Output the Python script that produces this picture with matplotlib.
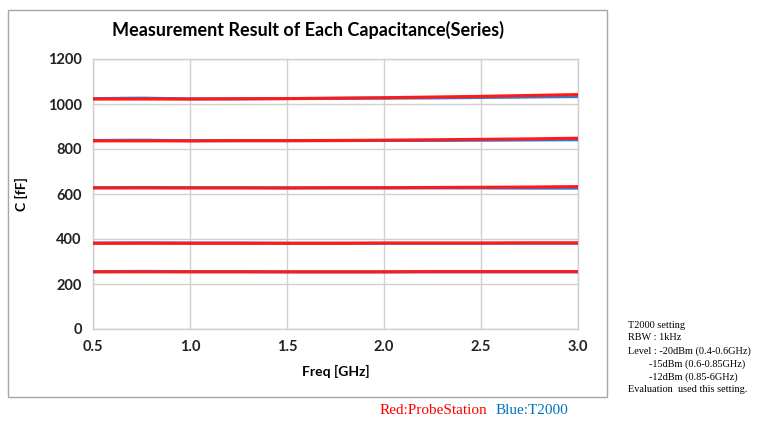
import matplotlib
matplotlib.use("Agg")
import matplotlib.pyplot as plt
from matplotlib.patches import Rectangle

freq = [0.5, 0.75, 1.0, 1.25, 1.5, 1.75, 2.0, 2.25, 2.5, 2.75, 3.0]
red_1000 = [1022, 1022, 1022, 1023, 1024, 1026, 1028, 1031, 1034, 1038, 1042]
blue_1000 = [1024, 1026, 1023, 1023, 1024, 1025, 1026, 1027, 1029, 1031, 1033]
red_840 = [836, 836, 836, 837, 837, 838, 839, 841, 843, 845, 848]
blue_840 = [838, 839, 837, 837, 837, 837, 838, 838, 839, 840, 841]
red_628 = [627, 627, 627, 627, 627, 628, 628, 629, 630, 631, 633]
blue_628 = [628, 629, 628, 628, 627, 627, 627, 627, 627, 626, 626]
red_382 = [381, 381, 381, 381, 381, 381, 382, 382, 382, 383, 383]
blue_382 = [382, 383, 382, 382, 381, 381, 381, 381, 381, 381, 381]
red_255 = [254, 254, 254, 254, 254, 254, 254, 255, 255, 255, 255]
blue_255 = [255, 256, 255, 255, 254, 254, 254, 254, 254, 254, 254]

blue_series = [blue_1000, blue_840, blue_628, blue_382, blue_255]
red_series = [red_1000, red_840, red_628, red_382, red_255]

xticks = [0.5, 1.0, 1.5, 2.0, 2.5, 3.0]
yticks = [0, 200, 400, 600, 800, 1000, 1200]

title = "Measurement Result of Each Capacitance(Series)"
xlabel = "Freq [GHz]"
ylabel = "C [fF]"
note_lines = ["T2000 setting", "RBW : 1kHz", "Level : -20dBm (0.4-0.6GHz)",
              "-15dBm (0.6-0.85GHz)", "-12dBm (0.85-6GHz)",
              "Evaluation  used this setting."]
note_x = [628, 628, 628, 649, 649, 628]

W, H = 759, 421
fig = plt.figure(figsize=(W / 100, H / 100), dpi=100)

# chart frame
fig.patches.append(Rectangle((8 / W, 1 - 397 / H), (607 - 8) / W, (397 - 10) / H,
                             transform=fig.transFigure, fill=False,
                             edgecolor="#a6a6a6", linewidth=1.0))

ax = fig.add_axes([93 / W, 1 - 329 / H, (578 - 93) / W, (329 - 59) / H])
for b in blue_series:
    ax.plot(freq, b, color="#2e7fd0", linewidth=2.2, solid_capstyle="butt", zorder=3)
for r in red_series:
    ax.plot(freq, r, color="#ff1a1a", linewidth=2.2, solid_capstyle="butt", zorder=4)

ax.set_xlim(0.5, 3.0)
ax.set_ylim(0, 1200)
ax.set_xticks(xticks)
ax.set_yticks(yticks)
ax.set_xticklabels([f"{v:.1f}" for v in xticks])
ax.set_yticklabels([str(v) for v in yticks])
ax.grid(True, color="#d0d0d0", linewidth=1.0)
ax.set_axisbelow(True)
for s in ax.spines.values():
    s.set_color("#d0d0d0")
    s.set_linewidth(1.0)
ax.tick_params(length=0, pad=8, labelsize=10.5, colors="#222222")
for lab in ax.get_xticklabels() + ax.get_yticklabels():
    lab.set_fontweight("bold")
    lab.set_family("Lato")

ax.set_xlabel(xlabel, fontsize=10, fontweight="bold", family="Lato", labelpad=8)
ax.set_ylabel(ylabel, fontsize=10, fontweight="bold", family="Lato", labelpad=14)

fig.text(308 / W, 1 - 30 / H, title, ha="center", va="center",
         fontsize=13.0, fontweight="bold", family="Lato")

y0 = 325
for i, line in enumerate(note_lines):
    fig.text(note_x[i] / W, 1 - (y0 + i * 13) / H, line, ha="left", va="center",
             fontsize=7.4, family="Liberation Serif")

fig.text(380 / W, 1 - 411 / H, "Red:ProbeStation", ha="left", va="center",
         fontsize=11, family="Liberation Serif", color="#ff0000")
fig.text(496 / W, 1 - 411 / H, "Blue:T2000", ha="left", va="center",
         fontsize=11, family="Liberation Serif", color="#0070c0")

fig.savefig("out.png", dpi=100)
